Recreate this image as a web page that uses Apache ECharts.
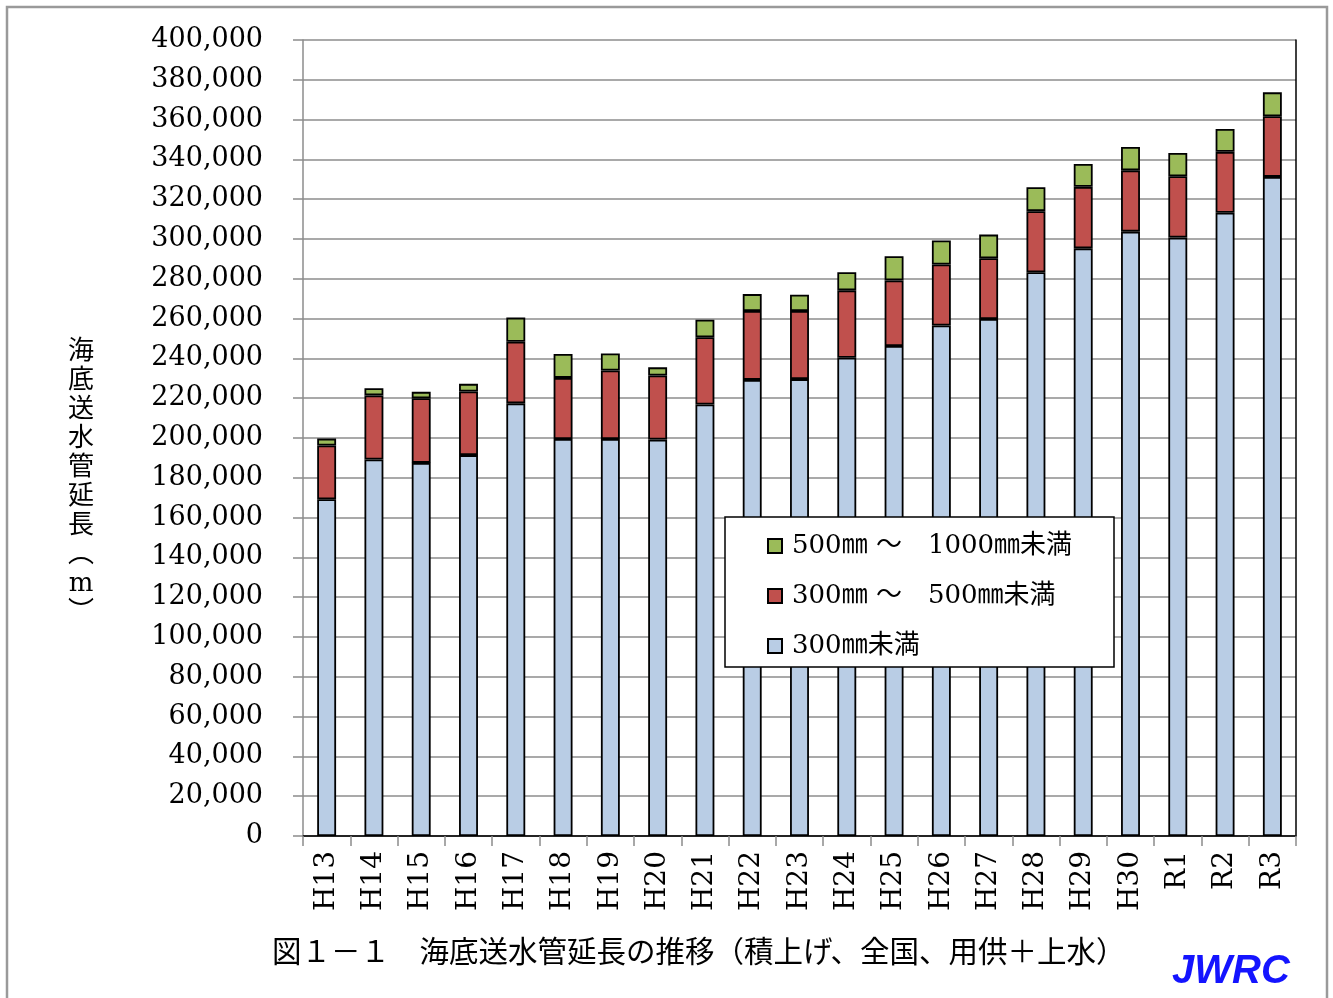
<!DOCTYPE html>
<html>
<head>
<meta charset="utf-8">
<script src="https://cdn.jsdelivr.net/npm/echarts@6/dist/echarts.min.js"></script>
<style>
html,body{margin:0;padding:0;background:#fff;}
#chart{width:1333px;height:998px;}
</style>
</head>
<body>
<div id="chart"></div>
<script>
const categories = ['H13','H14','H15','H16','H17','H18','H19','H20','H21','H22','H23','H24','H25','H26','H27','H28','H29','H30','R1','R2','R3'];
// 300mm未満
const under300 = [169200,189200,187500,191400,217400,199500,199500,199200,216800,229200,229600,240300,246200,256500,259800,283300,295300,303700,300700,313200,331200];
// 300mm～500mm未満
const from300to500 = [27000,32200,32500,32000,31000,30700,34400,32200,33800,34600,34200,33900,33000,30700,30500,30700,30900,30800,30800,30600,30500];
// 500mm～1000mm未満
const from500to1000 = [3500,3600,3200,3800,12100,12000,8600,4100,8800,8500,8200,9100,12100,12100,11900,12000,11500,11700,11700,11500,12000];

const seriesNames = ['300㎜未満','300㎜ ～　500㎜未満','500㎜ ～　1000㎜未満'];
const yAxisTitle = '海底送水管延長︵m︶';
const caption = '図１－１　海底送水管延長の推移（積上げ、全国、用供＋上水）';
const logoText = 'JWRC';

const serif = '"DejaVu Serif", "Noto Sans CJK JP", serif';
const chart = echarts.init(document.getElementById('chart'), null, {renderer:'canvas'});

const barStyle = (c) => ({color:c, borderColor:'#000', borderWidth:1.8});

chart.setOption({
  animation:false,
  backgroundColor:'#fff',
  grid:{left:303, right:37, top:40, bottom:162, containLabel:false},
  legend:{
    orient:'vertical', left:762, top:528, z:200,
    data:[seriesNames[2], seriesNames[1], seriesNames[0]],
    itemWidth:14, itemHeight:14, itemGap:24,
    textStyle:{fontFamily:serif, fontSize:26, color:'#000', lineHeight:26, padding:[0,0,0,5]},
    icon:'rect'
  },
  xAxis:[{
    type:'category', data:categories, position:'bottom',
    axisLine:{lineStyle:{color:'#8c8c8c', width:1.5}},
    axisTick:{show:true, length:10, lineStyle:{color:'#8c8c8c', width:1.5}},
    axisLabel:{rotate:90, margin:15, fontFamily:serif, fontSize:28, color:'#000'}
  },{
    type:'category', data:categories, position:'top',
    axisLine:{lineStyle:{color:'#000', width:1.5}},
    axisTick:{show:false}, axisLabel:{show:false}
  }],
  yAxis:[{
    type:'value', min:0, max:400000, interval:20000,
    axisLine:{show:true, lineStyle:{color:'#8c8c8c', width:1.5}},
    axisTick:{show:true, length:10, lineStyle:{color:'#8c8c8c', width:1.5}},
    splitLine:{lineStyle:{color:'#8c8c8c', width:1.5}},
    axisLabel:{margin:40, fontFamily:serif, fontSize:27, color:'#000',
      formatter:(v)=>v.toLocaleString('en-US')}
  },{
    type:'value', min:0, max:400000, interval:20000, position:'right',
    axisLine:{show:true, lineStyle:{color:'#000', width:1.5}},
    axisTick:{show:false}, axisLabel:{show:false}, splitLine:{show:false}
  }],
  series:[
    {name:seriesNames[0], type:'bar', stack:'total', data:under300, barWidth:'40%', itemStyle:barStyle('#B9CDE5')},
    {name:seriesNames[1], type:'bar', stack:'total', data:from300to500, itemStyle:barStyle('#C0504D')},
    {name:seriesNames[2], type:'bar', stack:'total', data:from500to1000, itemStyle:barStyle('#9BBB59')}
  ],
  graphic:[
    {type:'rect', z:100, shape:{x:725, y:517, width:389, height:150},
      style:{fill:'#fff', stroke:'#000', lineWidth:1.5}},
    {type:'rect', z:0, silent:true, shape:{x:7, y:7, width:1320, height:1000},
      style:{fill:'none', stroke:'#9a9a9a', lineWidth:2.5}},
    {type:'text', z:100, x:81, y:338,
      style:{text:yAxisTitle.split('').join('\n'), fontFamily:serif, fontSize:26, lineHeight:29,
        align:'center', verticalAlign:'top', fill:'#000'}},
    {type:'text', z:100, left:272, top:936,
      style:{text:caption, fontFamily:'"Noto Sans CJK JP", sans-serif', fontSize:29.5, fill:'#000'}},
    {type:'text', z:100, left:1172, top:952,
      style:{text:logoText, fontFamily:'"Liberation Sans", Arial, sans-serif', fontSize:40, fontWeight:'bold', fontStyle:'italic', fill:'#1414ff'}}
  ]
});
</script>
</body>
</html>
